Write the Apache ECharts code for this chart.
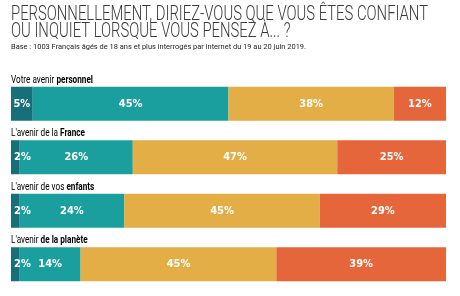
<!DOCTYPE html>
<html>
<head>
<meta charset="utf-8">
<script src="https://cdn.jsdelivr.net/npm/echarts@6/dist/echarts.min.js"></script>
<style>
  html, body { margin: 0; padding: 0; background: #fff; }
  #chart { width: 460px; height: 296px; }
</style>
</head>
<body>
<div id="chart"></div>
<script>
// questions: regular part + bold part
const categoryPlain = ['Votre avenir ', "L'avenir de la ", "L'avenir de vos ", "L'avenir "]
const categoryBold = ['personnel', 'France', 'enfants', 'de la planète']
const categories = categoryPlain.map((p, i) => p + categoryBold[i])

const seriesNames = ['Très confiant', 'Plutôt confiant', 'Plutôt inquiet', 'Très inquiet']
const tresConfiant = [5, 2, 2, 2]
const plutotConfiant = [45, 26, 24, 14]
const plutotInquiet = [38, 47, 45, 45]
const tresInquiet = [12, 25, 29, 39]

const titleLines = [
  'PERSONNELLEMENT, DIRIEZ-VOUS QUE VOUS ÊTES CONFIANT',
  'OU INQUIET LORSQUE VOUS PENSEZ À... ?',
]
const baseText = 'Base : 1003 Français âgés de 18 ans et plus interrogés par internet du 19 au 20 juin 2019.'

const colors = ['#166f79', '#1a9f9e', '#e4ae47', '#e4663a']
const valueFont = '"Liberation Sans Narrow", "DejaVu Sans Condensed", sans-serif'

const chart = echarts.init(document.getElementById('chart'))

const makeSeries = (name, values, i) => ({
  name,
  type: 'bar',
  stack: 'total',
  barWidth: 34,
  data: values.map((v) => ({
    value: v,
    label: v < 4 ? { position: 'insideLeft', distance: 3 } : undefined,
  })),
  itemStyle: { color: colors[i] },
  label: {
    show: true,
    position: 'inside',
    formatter: '{c}%',
    color: '#fff',
    fontFamily: valueFont,
    fontWeight: 'bold',
    fontSize: 11,
  },
})

chart.setOption({
  animation: false,
  grid: { left: 11, right: 14, top: 77, bottom: 5 },
  xAxis: { type: 'value', min: 0, max: 100, show: false },
  yAxis: { type: 'category', data: categories, inverse: true, show: false },
  series: [
    makeSeries(seriesNames[0], tresConfiant, 0),
    makeSeries(seriesNames[1], plutotConfiant, 1),
    makeSeries(seriesNames[2], plutotInquiet, 2),
    makeSeries(seriesNames[3], tresInquiet, 3),
  ],
})

// text widths, to squeeze fonts into the condensed look of the original
const ctx = document.createElement('canvas').getContext('2d')
const measure = (text, font) => {
  ctx.font = font
  return ctx.measureText(text).width
}

const titleFont = '300 20px Roboto'
const titleScale = 417 / measure(titleLines[0], titleFont)
const baseFont = '8px Roboto'
const baseScale = 295 / measure(baseText, baseFont)
const catRegular = '11px Roboto'
const catBoldFont = 'bold 11px Roboto'
const catScale = 82 / (measure(categoryPlain[0], catRegular) + measure(categoryBold[0], catBoldFont))

const graphics = []
titleLines.forEach((line, i) => {
  graphics.push({
    type: 'text',
    x: 11,
    y: 15 + i * 16.5,
    scaleX: titleScale,
    style: {
      text: line,
      font: titleFont,
      fill: '#3a3a3a',
      verticalAlign: 'middle',
    },
  })
})
graphics.push({
  type: 'text',
  x: 11,
  y: 47,
  scaleX: baseScale,
  style: { text: baseText, font: baseFont, fill: '#222', verticalAlign: 'middle' },
})
categories.forEach((c, i) => {
  const cy = chart.convertToPixel({ yAxisIndex: 0 }, c)
  graphics.push({
    type: 'text',
    x: 11,
    y: cy - 17 - 7,
    scaleX: catScale,
    style: {
      text: '{a|' + categoryPlain[i] + '}{b|' + categoryBold[i] + '}',
      verticalAlign: 'middle',
      rich: {
        a: { fontFamily: 'Roboto', fontSize: 11, color: '#555' },
        b: { fontFamily: 'Roboto', fontSize: 11, fontWeight: 'bold', color: '#111' },
      },
    },
  })
})
chart.setOption({ graphic: graphics })

window.addEventListener('resize', () => chart.resize())
</script>
</body>
</html>
